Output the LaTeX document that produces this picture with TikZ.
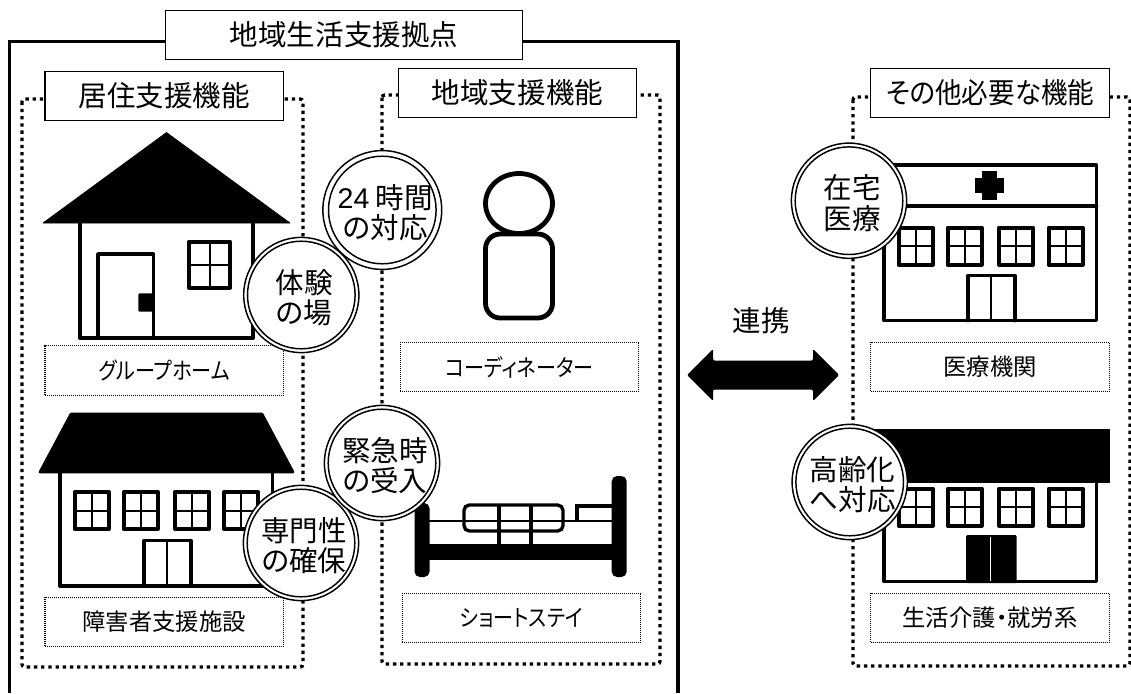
\documentclass[tikz,border=0pt]{standalone}
\usepackage{fontspec}
\setmainfont[Ligatures=TeX,RawFeature={+palt}]{Noto Sans CJK JP}
\newfontfamily\latinfont{Liberation Sans}
\newcommand{\wingrid}[4]{%
  \draw[winframe] ({#1+1.5},{#2+1.5}) rectangle ({#3-1.5},{#4-1.5});
  \draw[thinline] ({(#1+#3)/2},#2) -- ({(#1+#3)/2},#4);
  \draw[thinline] (#1,{(#2+#4)/2}) -- (#3,{(#2+#4)/2});
}
\newcommand{\badgetext}[2]{\rule{0pt}{22pt}\hspace*{4.5pt}#1\\\hspace*{4.5pt}#2}
\newcommand{\narrow}[1]{\scalebox{0.86}[1]{#1}}
\newcommand{\innerring}[1]{\draw[ringline] (#1.center) circle (53.8);}
\tikzset{
  x=0.75pt,y=-0.75pt,
  outer/.style={line width=2.6pt,line join=miter},
  dotframe/.style={line width=2.5pt,dash pattern=on 2.5pt off 2.9pt,rounded corners=2pt},
  headbox/.style={draw,fill=white,line width=1pt,minimum width=178.9pt,minimum height=36.6pt,inner sep=0pt,font=\fontsize{21.4}{24}\selectfont},
  labelbox/.style={draw,fill=white,line width=0.8pt,dash pattern=on 0.75pt off 0.75pt,minimum width=178.9pt,minimum height=36.9pt,inner sep=0pt,font=\fontsize{17.5}{20}\selectfont},
  badge/.style={circle,draw,fill=white,line width=1.1pt,minimum size=86.4pt,inner sep=0pt,align=center,font=\fontsize{21.4}{23}\selectfont},
  ringline/.style={line width=1.1pt},
  wall/.style={line width=2.9pt,line join=round,line cap=round},
  winframe/.style={line width=3pt,line join=round,fill=white},
  thinline/.style={line width=1.5pt},
  solid shape/.style={fill=black,draw=black,line width=1pt,line join=round},
}
\begin{document}
\begin{tikzpicture}
\useasboundingbox (0,0) rectangle (1131,693);
\fill[white] (0,0) rectangle (1131,693);

% outer frame
\draw[outer] (9.5,693) -- (9.5,41.5) -- (678,41.5) -- (678,693);

% dotted frames
\draw[dotframe] (22,99) rectangle (303,667);
\draw[dotframe] (382,95) rectangle (660,664);
\draw[dotframe] (853,97) rectangle (1130,666);

% house 1
\fill[white] (80,223) rectangle (253,338);
\draw[wall] (80,223) -- (80,338) -- (253,338) -- (253,223);
\draw[wall] (98,338) -- (98,254) -- (153.5,254) -- (153.5,338);
\fill[black,rounded corners=1pt] (138.3,293.3) rectangle (153.5,311.7);
\wingrid{187.5}{240}{231.5}{289}
\draw[solid shape,line width=0.5pt] (166.5,132.5) -- (290,223) -- (43,223) -- cycle;

% house 2
\draw[wall] (60,470) -- (60,586) -- (272.5,586) -- (272.5,470);
\wingrid{73}{490.5}{110}{530.5}
\wingrid{122}{490.5}{159}{530.5}
\wingrid{173.5}{490.5}{210.5}{530.5}
\wingrid{222.5}{490.5}{259.5}{530.5}
\draw[wall] (144,586) -- (144,540.5) -- (191,540.5) -- (191,586);
\draw[thinline] (166.7,540.5) -- (166.7,586);
\draw[solid shape,line width=2pt] (71,414) -- (262,414) -- (293,472) -- (40,472) -- cycle;

% person
\draw[line width=3.6pt] (519,203.5) ellipse (33.5 and 30);
\draw[line width=3.6pt,rounded corners=11pt,fill=white] (485.5,234) rectangle (552.5,318);

% bed
\draw[line width=1.7pt] (429,521) -- (612,521);
\draw[line width=2.5pt,rounded corners=4pt] (464,505) rectangle (563,531);
\draw[line width=2.4pt] (577,521) -- (577,506) -- (612,506);
\draw[line width=3pt] (499,505) -- (499,545);
\draw[line width=3pt] (530.7,505) -- (530.7,545);
\fill[black] (425,544) rectangle (615,560);
\fill[black,rounded corners=4pt] (414.5,503) rectangle (429.5,577);
\fill[black,rounded corners=4pt] (611.7,476) rectangle (626.7,577);

% hospital
\draw[wall] (884,165) rectangle (1096.5,320.5);
\draw[wall] (884,206) -- (1096.5,206);
\fill[black] (982,171) rectangle (996.5,200);
\fill[black] (975,178) rectangle (1004,192.5);
\wingrid{897}{226}{934}{266}
\wingrid{946}{226}{983}{266}
\wingrid{997.5}{226}{1034.5}{266}
\wingrid{1047}{226}{1084}{266}
\draw[wall] (968,320.5) -- (968,275.5) -- (1015,275.5) -- (1015,320.5);
\draw[thinline] (990.7,275.5) -- (990.7,320.5);

% care facility
\draw[wall] (884,480) -- (884,581.5) -- (1096.5,581.5) -- (1096.5,480);
\wingrid{897}{487}{934}{527}
\wingrid{946}{487}{983}{527}
\wingrid{997.5}{487}{1034.5}{527}
\wingrid{1047}{487}{1084}{527}
\fill[black,rounded corners=1pt] (966,535) rectangle (1016.7,583);
\draw[white,line width=1.1pt] (990.7,537) -- (990.7,581);
\fill[black] (871,429) rectangle (1110,482.7);

% heading boxes
\node[headbox,minimum width=268pt] (title) at (344,35) {地域生活支援拠点};
\node[headbox] (living) at (164.25,96) {居住支援機能};
\node[headbox] (region) at (517.5,93) {地域支援機能};
\node[headbox] (other) at (990,93) {\scalebox{0.93}[1]{その他必要な機能}};

% label boxes
\node[labelbox] (gh) at (164.25,370.5) {\narrow{グループホーム}};
\node[labelbox] (fac) at (164.25,622) {障害者支援施設};
\node[labelbox] (coord) at (519.5,367) {\narrow{コーディネーター}};
\node[labelbox] (stay) at (521.5,618) {\narrow{ショートステイ}};
\node[labelbox] (med) at (990,367) {医療機関};
\node[labelbox] (care) at (990,618) {生活介護・就労系};

% link
\node[font=\fontsize{21.4}{24}\selectfont,inner sep=0pt] (link) at (761,321) {連携};
\fill[black,rounded corners=1pt] (687,375) -- (713,349) -- (713,360.5) -- (813,360.5) -- (813,349) -- (839,375) -- (813,401) -- (813,389.5) -- (713,389.5) -- (713,401) -- cycle;

% badges
\node[badge] (b1) at (301.3,295) {\badgetext{体験}{の場}};
\innerring{b1}
\node[badge] (b3) at (301,543) {\badgetext{専門性}{の確保}};
\innerring{b3}
\node[badge] (b2) at (382.3,210) {\badgetext{{\latinfont 24} 時間}{の対応}};
\innerring{b2}
\node[badge] (b4) at (382,463) {\badgetext{緊急時}{の受入}};
\innerring{b4}
\node[badge] (b5) at (849,200.7) {\badgetext{在宅}{医療}};
\innerring{b5}
\node[badge] (b6) at (849.7,482) {\badgetext{高齢化}{へ対応}};
\innerring{b6}
\end{tikzpicture}
\end{document}
